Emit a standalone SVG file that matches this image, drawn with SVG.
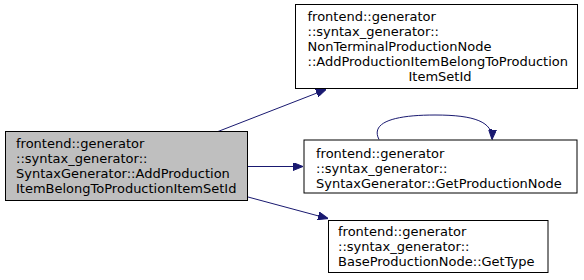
<svg xmlns="http://www.w3.org/2000/svg" width="584" height="280" viewBox="0 0 584 280">
  <style>
    .node rect { stroke: #000000; stroke-width: 1; }
    .plain rect { fill: #ffffff; }
    .focus rect { fill: #bfbfbf; }
    text { font-family: "DejaVu Sans", "Liberation Sans", sans-serif; font-size: 13px; fill: #000000; }
    .edge { fill: none; stroke: #191970; stroke-width: 1; }
  </style>
  <defs>
    <marker id="arrow" viewBox="0 0 10 8" refX="10" refY="4" markerWidth="10" markerHeight="8" markerUnits="userSpaceOnUse" orient="auto">
      <path d="M0,0 L10,4 L0,8 Z" fill="#191970" stroke="#191970"/>
    </marker>
  </defs>

  <!-- call edges -->
  <g id="edges">
    <path class="edge" d="M218,131.5 L326,89.5" marker-end="url(#arrow)"/>
    <path class="edge" d="M248,166.5 L303,166.5" marker-end="url(#arrow)"/>
    <path class="edge" d="M248,197 L328,218.5" marker-end="url(#arrow)"/>
    <path class="edge" d="M379,139.5 C370,122 395,115 435,115 C475,115 493,122 492,139.5" marker-end="url(#arrow)"/>
  </g>

  <!-- AddProductionItemBelongToProductionItemSetId (caller) -->
  <g id="node_main" class="node focus">
    <rect x="5.5" y="131.5" width="242" height="69"/>
    <text x="16" y="147.5">frontend::generator</text>
    <text x="16" y="162.5">::syntax_generator::</text>
    <text x="16" y="177.5">SyntaxGenerator::AddProduction</text>
    <text x="16" y="192.5">ItemBelongToProductionItemSetId</text>
  </g>

  <!-- NonTerminalProductionNode::AddProductionItemBelongToProductionItemSetId -->
  <g id="node_nonterminal" class="node plain">
    <rect x="295.5" y="4.5" width="282" height="84"/>
    <text x="307.5" y="20.7">frontend::generator</text>
    <text x="307.5" y="35.7">::syntax_generator::</text>
    <text x="307.5" y="50.7">NonTerminalProductionNode</text>
    <text x="307.5" y="65.7">::AddProductionItemBelongToProduction</text>
    <text x="440" y="80.7" text-anchor="middle">ItemSetId</text>
  </g>

  <!-- SyntaxGenerator::GetProductionNode -->
  <g id="node_getproductionnode" class="node plain">
    <rect x="304" y="140" width="273" height="53"/>
    <text x="316" y="157.7">frontend::generator</text>
    <text x="316" y="172.7">::syntax_generator::</text>
    <text x="316" y="187.7">SyntaxGenerator::GetProductionNode</text>
  </g>

  <!-- BaseProductionNode::GetType -->
  <g id="node_gettype" class="node plain">
    <rect x="328.5" y="220.5" width="219.5" height="52"/>
    <text x="338" y="235.7">frontend::generator</text>
    <text x="338" y="250.7">::syntax_generator::</text>
    <text x="338" y="265.7">BaseProductionNode::GetType</text>
  </g>
</svg>
